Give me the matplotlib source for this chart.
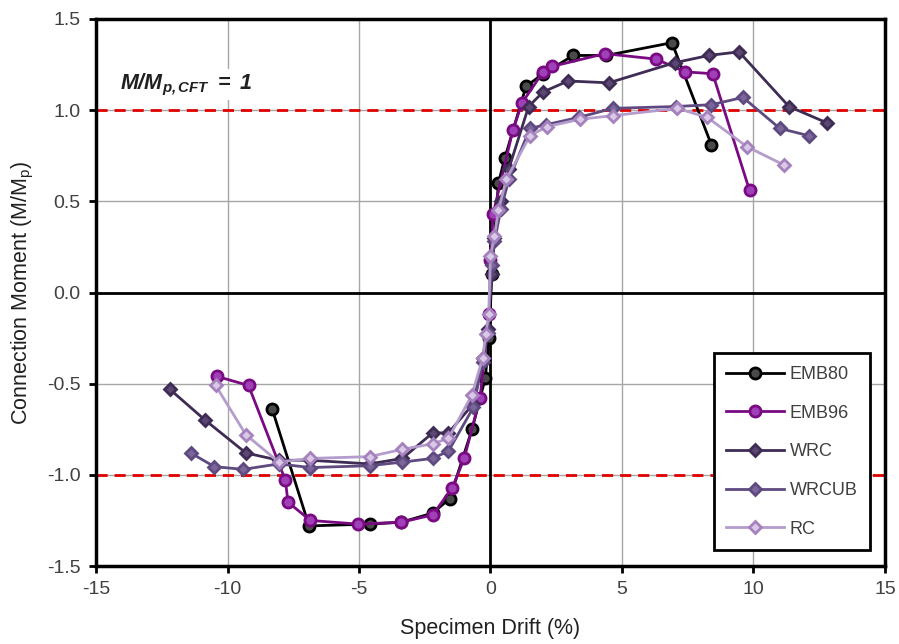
import matplotlib
matplotlib.use("Agg")
import matplotlib.pyplot as plt

plt.rcParams['font.family'] = ['Liberation Sans', 'DejaVu Sans']
plt.rcParams['mathtext.fontset'] = 'custom'
plt.rcParams['mathtext.rm'] = 'Liberation Sans'
plt.rcParams['mathtext.it'] = 'Liberation Sans:italic'
plt.rcParams['mathtext.bf'] = 'Liberation Sans:bold'
plt.rcParams['mathtext.bfit'] = 'Liberation Sans:italic:bold'

# backbone curves, drift (%) vs M/Mp
emb80_x = [-8.3, -6.9, -4.6, -3.4, -2.2, -1.55, -0.7, -0.2, -0.05, 0.05, 0.3, 0.55,
           1.35, 2.0, 3.15, 4.4, 6.9, 8.4]
emb80_y = [-0.64, -1.28, -1.27, -1.26, -1.21, -1.13, -0.75, -0.47, -0.25, 0.1, 0.6, 0.74,
           1.13, 1.20, 1.30, 1.30, 1.37, 0.81]

emb96_x = [-10.4, -9.2, -7.8, -7.7, -6.85, -5.05, -3.4, -2.2, -1.45, -1.0, -0.4, -0.05,
           0.0, 0.1, 0.85, 1.2, 2.0, 2.35, 4.35, 6.3, 7.4, 8.45, 9.85]
emb96_y = [-0.46, -0.51, -1.03, -1.15, -1.25, -1.27, -1.26, -1.22, -1.07, -0.91, -0.58, -0.12,
           0.18, 0.43, 0.89, 1.04, 1.21, 1.24, 1.31, 1.28, 1.21, 1.20, 0.56]

wrc_x = [-12.2, -10.85, -9.3, -8.05, -6.85, -4.6, -3.35, -2.2, -1.6, -0.65, -0.3, -0.1,
         0.05, 0.15, 0.4, 0.7, 1.45, 2.0, 2.95, 4.5, 7.0, 8.3, 9.45, 11.35, 12.8]
wrc_y = [-0.53, -0.70, -0.88, -0.92, -0.92, -0.94, -0.91, -0.77, -0.77, -0.61, -0.36, -0.2,
         0.1, 0.3, 0.5, 0.68, 1.02, 1.10, 1.16, 1.15, 1.26, 1.30, 1.32, 1.02, 0.93]

wrcub_x = [-11.4, -10.5, -9.4, -8.05, -6.85, -4.6, -3.35, -2.2, -1.6, -0.65, -0.3, -0.1,
           0.05, 0.15, 0.4, 0.7, 1.5, 2.1, 3.35, 4.65, 7.05, 8.4, 9.6, 11.0, 12.1]
wrcub_y = [-0.88, -0.955, -0.97, -0.94, -0.96, -0.95, -0.93, -0.91, -0.87, -0.63, -0.38, -0.22,
           0.15, 0.28, 0.46, 0.62, 0.90, 0.92, 0.96, 1.01, 1.02, 1.03, 1.07, 0.90, 0.86]

rc_x = [-10.45, -9.3, -8.05, -6.85, -4.6, -3.35, -2.2, -1.6, -0.7, -0.3, -0.18, -0.07,
        0.0, 0.15, 0.3, 0.6, 1.5, 2.15, 3.4, 4.65, 7.1, 8.25, 9.75, 11.15]
rc_y = [-0.51, -0.78, -0.93, -0.91, -0.90, -0.86, -0.83, -0.80, -0.56, -0.36, -0.23, -0.12,
        0.2, 0.31, 0.45, 0.62, 0.86, 0.91, 0.95, 0.97, 1.01, 0.96, 0.80, 0.70]

x_ticks = [-15, -10, -5, 0, 5, 10, 15]
y_ticks = [-1.5, -1.0, -0.5, 0.0, 0.5, 1.0, 1.5]

fig = plt.figure(figsize=(8.99, 6.44), dpi=100)
ax = fig.add_axes([0.1068, 0.1211, 0.8776, 0.8494])
ax.set_axisbelow(True)

ax.grid(True, color='#a6a6a6', linewidth=1.0)
# zero axes and the M/Mp = 1 limits
ax.axhline(0, color='black', linewidth=2.0, zorder=2)
ax.axvline(0, color='black', linewidth=2.0, zorder=2)
ax.axhline(1.0, color='#e00000', linewidth=2.0, linestyle=(0, (4, 2.5)), zorder=2)
ax.axhline(-1.0, color='#e00000', linewidth=2.0, linestyle=(0, (4, 2.5)), zorder=2)

series = [
    (emb80_x, emb80_y, 'EMB80', 'o', 'black', '#4a4a4a', 'black'),
    (emb96_x, emb96_y, 'EMB96', 'o', '#7a0a82', '#a040b8', '#7a0a82'),
    (wrc_x, wrc_y, 'WRC', 'D', '#3e2c55', '#5a4872', '#3e2c55'),
    (wrcub_x, wrcub_y, 'WRCUB', 'D', '#5e4a80', '#7a6698', '#5e4a80'),
    (rc_x, rc_y, 'RC', 'D', '#b49ccc', '#d9c8e6', '#a582bd'),
]
for xs, ys, name, mk, lc, fc, ec in series:
    ms = 8 if mk == 'o' else 6.5
    ax.plot(xs, ys, color=lc, linewidth=2.0, marker=mk, markersize=ms,
            markerfacecolor=fc, markeredgecolor=ec, markeredgewidth=2.0,
            label=name, zorder=3)

ax.set_xlim(-15, 15)
ax.set_ylim(-1.5, 1.5)
ax.set_xticks(x_ticks)
ax.set_yticks(y_ticks)
ax.set_xticklabels([str(t) for t in x_ticks])
ax.set_yticklabels([f'{t:.1f}' for t in y_ticks])
ax.tick_params(direction='out', length=5, width=2, labelsize=14,
               colors='black', labelcolor='#404040', pad=6)
for sp in ax.spines.values():
    sp.set_linewidth(2.5)
    sp.set_color('black')
    sp.set_zorder(4)

ax.set_xlabel('Specimen Drift (%)', fontsize=15.5, labelpad=14, color='#202020')
ax.set_ylabel('Connection Moment (M/M$_{\\mathrm{p}}$)', fontsize=15.5, labelpad=8,
              color='#202020')

ax.text(-14.1, 1.14, r'$\mathbfit{M/M_{p,CFT}\ =\ 1}$', fontsize=15.5,
        color='#202020', ha='left', va='center', zorder=4,
        bbox=dict(facecolor='white', edgecolor='none', pad=2))

leg = ax.legend(loc='lower right', bbox_to_anchor=(0.981, 0.029), fontsize=13,
                frameon=True, fancybox=False, framealpha=1, edgecolor='black',
                handlelength=3.2, labelspacing=1.2, borderpad=0.7,
                handletextpad=0.3, borderaxespad=0)
leg.get_frame().set_linewidth(2.0)
leg.set_zorder(5)
for t in leg.get_texts():
    t.set_color('#404040')

fig.savefig('out.png', dpi=100)
